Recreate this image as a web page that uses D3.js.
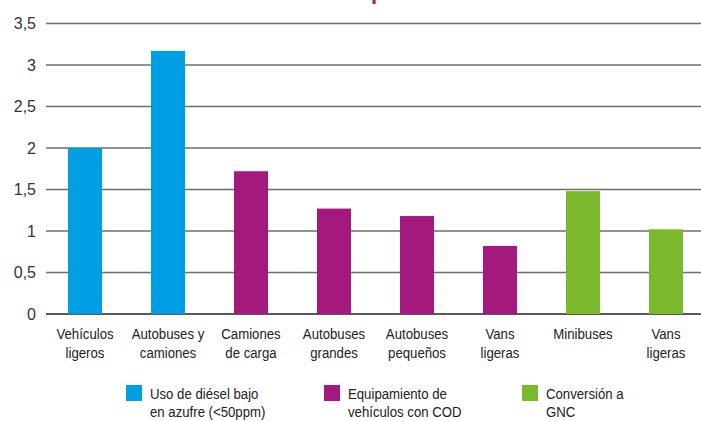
<!DOCTYPE html>
<html>
<head>
<meta charset="utf-8">
<script src="https://cdn.jsdelivr.net/npm/d3@7"></script>
<style>
  body { margin: 0; background: #fff; }
  .cat, .leg { font-family: "Liberation Sans", Arial, sans-serif; font-size: 15px; fill: #222; }
  .tick-label { font-family: "Liberation Sans", Arial, sans-serif; font-size: 16px; fill: #333; }
</style>
</head>
<body>
<div id="chart"></div>
<script>
const categories = [
  ["Vehículos", "ligeros"],
  ["Autobuses y", "camiones"],
  ["Camiones", "de carga"],
  ["Autobuses", "grandes"],
  ["Autobuses", "pequeños"],
  ["Vans", "ligeras"],
  ["Minibuses"],
  ["Vans", "ligeras"],
];
const values = [2.0, 3.17, 1.72, 1.27, 1.18, 0.82, 1.48, 1.02];
const seriesOf = [0, 0, 1, 1, 1, 1, 2, 2];
const seriesNames = [
  ["Uso de diésel bajo", "en azufre (<50ppm)"],
  ["Equipamiento de", "vehículos con COD"],
  ["Conversión a", "GNC"],
];
const colors = ["#009fe3", "#a3197e", "#7ab82c"];
const tickValues = [0, 0.5, 1, 1.5, 2, 2.5, 3, 3.5];

const width = 701;
const height = 421;
const squeeze = 0.88; // condensed look for the labels

const svg = d3
  .select("#chart")
  .append("svg")
  .attr("width", width)
  .attr("height", height);

// cut-off title at the very top
svg.append("text")
  .attr("x", 371)
  .attr("y", -1)
  .attr("fill", "#a3197e")
  .style("font-family", "Liberation Sans, sans-serif")
  .style("font-weight", "bold")
  .style("font-size", "22px")
  .text("p");

const xScale = d3
  .scaleBand()
  .domain(d3.range(values.length))
  .range([43.5, 707.5])
  .paddingInner(0.59)
  .paddingOuter(0.295);

const yScale = d3
  .scaleLinear()
  .domain([0, 3.5])
  .range([314, 23.5]);

// grid
svg.append("g")
  .selectAll("line")
  .data(tickValues)
  .enter()
  .append("line")
  .attr("x1", 46)
  .attr("x2", width)
  .attr("y1", (d) => yScale(d))
  .attr("y2", (d) => yScale(d))
  .attr("stroke", (d) => (d === 0 ? "#222" : "#6e6e6e"))
  .attr("stroke-width", 1.7);

const yAxis = d3.axisLeft(yScale)
  .tickValues(tickValues)
  .tickSize(0)
  .tickPadding(0)
  .tickFormat((d) => String(d).replace(".", ","));

svg.append("g")
  .attr("transform", "translate(36,0)")
  .call(yAxis)
  .call((g) => g.select(".domain").remove())
  .call((g) => g.selectAll("text").attr("class", "tick-label").attr("font-family", null).attr("font-size", null).attr("fill", null));

svg.append("g")
  .selectAll("rect")
  .data(values)
  .enter()
  .append("rect")
  .attr("x", (d, i) => xScale(i))
  .attr("y", (d) => yScale(d))
  .attr("width", xScale.bandwidth())
  .attr("height", (d) => yScale(0) - yScale(d))
  .attr("fill", (d, i) => colors[seriesOf[i]]);

// category labels
const cat = svg.append("g")
  .selectAll("text")
  .data(categories)
  .enter()
  .append("text")
  .attr("class", "cat")
  .attr("text-anchor", "middle")
  .attr("transform", (d, i) => `translate(${xScale(i) + xScale.bandwidth() / 2},339) scale(${squeeze},1)`);
cat.selectAll("tspan")
  .data((d) => d)
  .enter()
  .append("tspan")
  .attr("x", 0)
  .attr("dy", (d, i) => (i === 0 ? 0 : 19))
  .text((d) => d);

// legend
const legendX = [126, 324, 522];
const leg = svg.append("g")
  .selectAll("g")
  .data(seriesNames)
  .enter()
  .append("g")
  .attr("transform", (d, i) => `translate(${legendX[i]},385)`);
leg.append("rect")
  .attr("width", 16)
  .attr("height", 16)
  .attr("fill", (d, i) => colors[i]);
const legText = leg.append("text")
  .attr("class", "leg")
  .attr("transform", `translate(24,14) scale(${squeeze},1)`);
legText.selectAll("tspan")
  .data((d) => d)
  .enter()
  .append("tspan")
  .attr("x", 0)
  .attr("dy", (d, i) => (i === 0 ? 0 : 18))
  .text((d) => d);
</script>
</body>
</html>
